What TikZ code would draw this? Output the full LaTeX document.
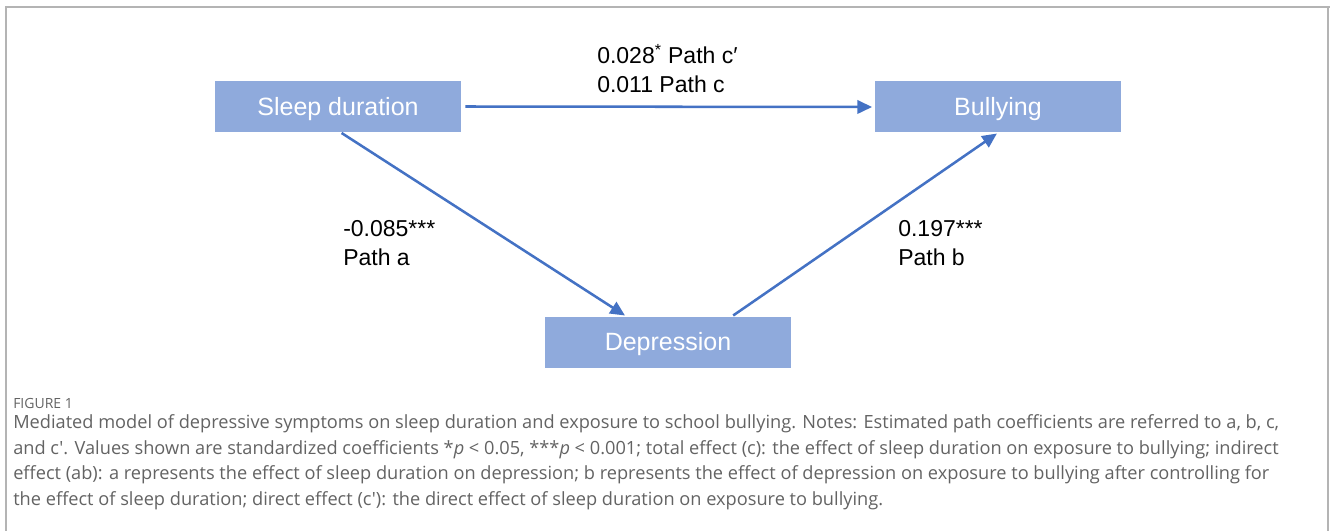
\documentclass[tikz,border=0pt]{standalone}
\usepackage{fontspec}
\setmainfont{Liberation Sans}
\newfontfamily\capfont{Open Sans}
\usetikzlibrary{arrows.meta,calc}
\definecolor{boxfill}{HTML}{8FAADC}
\definecolor{arrowblue}{HTML}{4472C4}
\definecolor{framegray}{HTML}{B4B4B4}
\definecolor{capgray}{HTML}{636363}
\tikzset{
  varbox/.style={fill=boxfill, draw=none, minimum width=184.5pt, minimum height=38.25pt,
    inner sep=0pt, text=white, text height=13.4pt, text depth=0pt,
    font=\fontsize{18.75}{22}\selectfont},
  conn/.style={draw=arrowblue, line width=1.9pt, -{Triangle[length=11pt,width=10pt]}},
  coef/.style={anchor=base west, inner sep=0pt, align=left, font=\fontsize{17.25}{22}\selectfont},
  framerule/.style={draw=framegray, line width=1.6pt},
  captext/.style={anchor=north west, inner sep=0pt, align=left, text=capgray,
    font=\capfont\fontsize{13.65}{19.4}\selectfont}
}
\begin{document}
\begin{tikzpicture}[x=0.75pt,y=-0.75pt]
\useasboundingbox (0,0) rectangle (1330,531);
% frame
\coordinate (fbl) at (6,531);
\coordinate (ftl) at (6,7);
\coordinate (ftr) at (1328,7);
\coordinate (fbr) at (1328,531);
\coordinate (ftre) at (1330,7);
\draw[framerule] (fbl) -- (ftl) -- (ftre);
\draw[framerule] (ftr) -- (fbr);
% boxes
\node[varbox] (sleep) at (338,106.5) {Sleep duration};
\node[varbox] (bully) at (998,107) {Bullying};
\node[varbox] (dep) at (668,342) {Depression};
% connectors
\draw[conn, shorten <=3pt, shorten >=2pt] (sleep.east) -- (bully.west);
\coordinate (depa) at ($(dep.north west)!0.33!(dep.north east)$);
\coordinate (depb) at ($(dep.north west)!0.76!(dep.north east)$);
\coordinate (sleepa) at ($(sleep.south west)!0.51!(sleep.south east)$);
\draw[conn, shorten <=1pt, shorten >=1pt] (sleepa) -- (depa);
\draw[conn, shorten <=1pt, shorten >=1pt] (depb) -- (bully.south);
% coefficient labels
\node[coef] (cp) at (597,64) {0.028\textsuperscript{*} Path c′};
\node[coef] (c) at (597,93) {0.011 Path c};
\node[coef] (a1) at (343,236) {-0.085***};
\node[coef] (a2) at (343,265) {Path a};
\node[coef] (b1) at (898,236) {0.197***};
\node[coef] (b2) at (898,265) {Path b};
% caption
\node[anchor=north west, inner sep=0pt, text=capgray, font=\capfont\fontsize{10.5}{12}\selectfont] (fig) at (13,398) {FIGURE 1};
\node[captext] (cap) at (13,414) {Mediated model of depressive symptoms on sleep duration and exposure to school bullying. Notes: Estimated path coefficients are referred to a, b, c,\\
and c'. Values shown are standardized coefficients *\textit{p} < 0.05, ***\textit{p} < 0.001; total effect (c): the effect of sleep duration on exposure to bullying; indirect\\
effect (ab): a represents the effect of sleep duration on depression; b represents the effect of depression on exposure to bullying after controlling for\\
the effect of sleep duration; direct effect (c'): the direct effect of sleep duration on exposure to bullying.};
\end{tikzpicture}
\end{document}
